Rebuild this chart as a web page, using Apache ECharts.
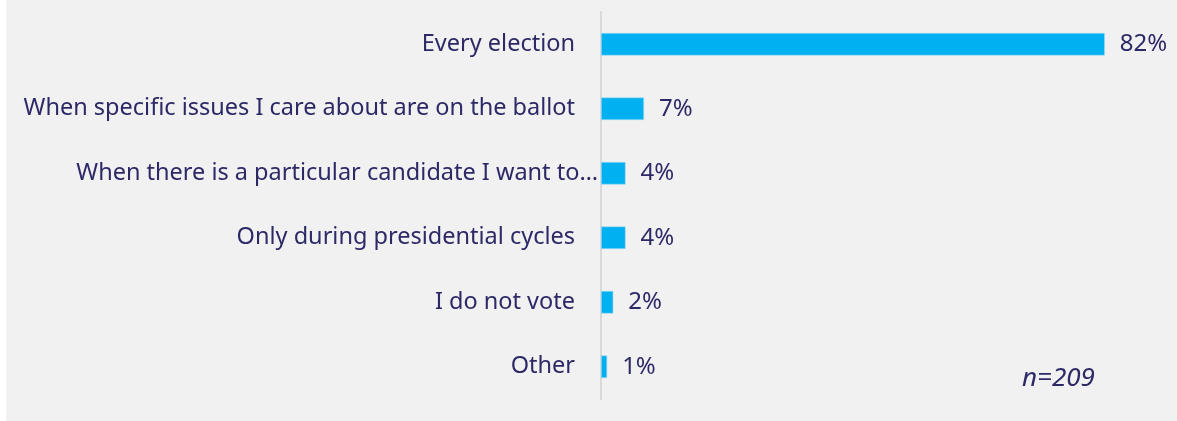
<!DOCTYPE html>
<html><head><meta charset="utf-8">
<script src="https://cdn.jsdelivr.net/npm/echarts@6/dist/echarts.min.js"></script>
<style>
html,body{margin:0;padding:0;background:#ffffff;}
#c{position:absolute;left:6px;top:0;width:1171px;height:421px;background:#f1f1f1;}
</style></head>
<body><div id="c"></div>
<script>
var categories = ["Every election","When specific issues I care about are on the ballot","When there is a particular candidate I want to…","Only during presidential cycles","I do not vote","Other"];
var values = [82, 7, 4, 4, 2, 1];
var note = "n=209";

var chart = echarts.init(document.getElementById('c'), null, {renderer:'canvas'});
var textColor = '#2c2966';
var font = '"Noto Sans"';
var yData = categories.map(function (c) {
  // the clipped label overflows toward the axis in the original
  return c.slice(-1) === '…' ? {value: c, textStyle: {padding: [0, -23, 0, 0]}} : c;
});
chart.setOption({
  backgroundColor: '#f1f1f1',
  animation: false,
  grid: {left: 595, right: 23, top: 12, bottom: 22},
  xAxis: {type:'value', min:0, max:90, show:false},
  yAxis: {
    type:'category', data: yData, inverse:true,
    axisLine:{show:true, lineStyle:{color:'#d9d9d9', width:2}},
    axisTick:{show:false},
    axisLabel:{color:textColor, fontSize:23.5, fontFamily:font, margin:26}
  },
  series: [{
    type:'bar', data: values, barWidth:'35%',
    itemStyle:{color:'#00b0f0', borderColor:'#a8def4', borderWidth:0.6},
    label:{show:true, position:'right', distance:15, formatter:'{c}%', color:textColor, fontSize:24, fontFamily:font}
  }],
  graphic: [{
    type:'text', x:1016, y:379,
    style:{text:note, fill:textColor, font:'italic 26px ' + font, textVerticalAlign:'middle', verticalAlign:'middle'}
  }]
});
</script></body></html>
